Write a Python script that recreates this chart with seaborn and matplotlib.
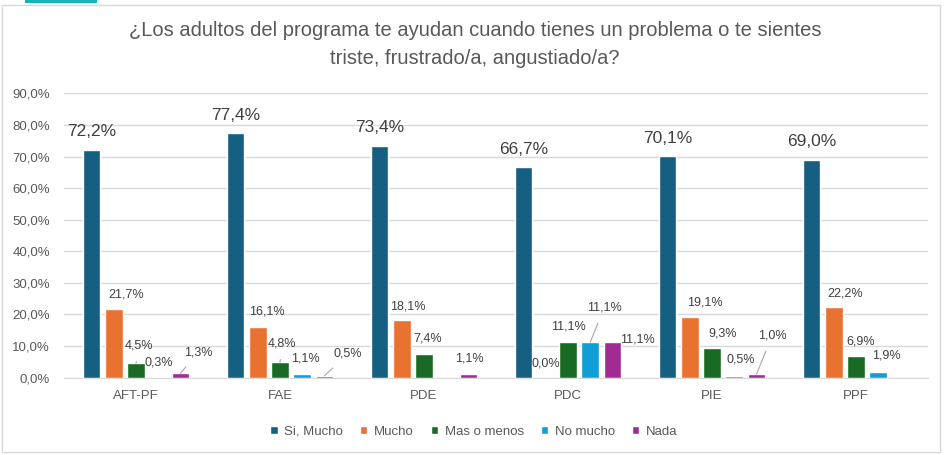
import numpy as np
import pandas as pd
import seaborn as sns
import matplotlib.pyplot as plt
from matplotlib.patches import Rectangle, Patch
from matplotlib.ticker import FuncFormatter

programas = ["AFT-PF", "FAE", "PDE", "PDC", "PIE", "PPF"]
respuestas = ["Si, Mucho", "Mucho", "Mas o menos", "No mucho", "Nada"]

si_mucho = [72.2, 77.4, 73.4, 66.7, 70.1, 69.0]
mucho = [21.7, 16.1, 18.1, 0.0, 19.1, 22.2]
mas_o_menos = [4.5, 4.8, 7.4, 11.1, 9.3, 6.9]
no_mucho = [0.3, 1.1, np.nan, 11.1, 0.5, 1.9]
nada = [1.3, 0.5, 1.1, 11.1, 1.0, np.nan]

colores = ["#156082", "#E97132", "#196B24", "#0F9ED5", "#A02B93"]

valores = [si_mucho, mucho, mas_o_menos, no_mucho, nada]
rows = []
for r, vals in zip(respuestas, valores):
    for p, v in zip(programas, vals):
        rows.append({"programa": p, "respuesta": r, "valor": v})
df = pd.DataFrame(rows)

# label offsets in pixels (dx, dy) from top centre of bar; third item -> leader line
offs = {
    0: [(0, 18), (0, 18), (0, 18), (0, 18), (0, 18), (0, 18)],
    1: [(12, 15), (9, 15), (6, 14), (0, 14), (15, 15), (11, 14)],
    2: [(3, 18, True), (2, 19, True), (4, 16), (0, 16), (11, 15), (5, 14)],
    3: [(1, 14), (3, 16), None, (14, 35, True), (7, 16), (8, 16)],
    4: [(18, 21, True), (23, 22, True), (1, 16), (25, 3), (16, 39, True), None],
}

sns.set_style("white")
plt.rcParams["font.family"] = ["Liberation Sans", "DejaVu Sans"]

fig = plt.figure(figsize=(9.44, 4.55), dpi=100)
ax = fig.add_axes([64 / 944, 77.5 / 455, 864 / 944, 284 / 455])

sns.barplot(data=df, x="programa", y="valor", hue="respuesta", order=programas,
            hue_order=respuestas, palette=colores, gap=0.21, width=0.77,
            saturation=1, ax=ax, legend=False)

ax.set_xlim(-0.5, 5.5)
ax.set_ylim(0, 90)
ax.set_yticks(np.arange(0, 91, 10))
ax.yaxis.set_major_formatter(FuncFormatter(lambda v, pos: f"{v:.1f}%".replace(".", ",")))
ax.grid(axis="y", color="#d9d9d9", linewidth=1)
ax.set_axisbelow(True)
for s in ["top", "right", "left"]:
    ax.spines[s].set_visible(False)
ax.spines["bottom"].set_color("#d9d9d9")
ax.tick_params(axis="both", length=0, colors="#595959", labelsize=9.5)
ax.tick_params(axis="y", pad=10)
ax.tick_params(axis="x", pad=9)
ax.set_xlabel("")
ax.set_ylabel("")

for hi, cont in enumerate(ax.containers):
    for bar in cont:
        h = bar.get_height()
        if np.isnan(h):
            continue
        xc = bar.get_x() + bar.get_width() / 2
        ci = int(round(xc))
        o = offs[hi][ci]
        if o is None:
            continue
        txt = f"{h:.1f}%".replace(".", ",")
        fs = 12.5 if hi == 0 else 9
        kw = {}
        if len(o) == 3:
            kw["arrowprops"] = dict(arrowstyle="-", color="#a6a6a6", lw=0.8,
                                    shrinkA=5, shrinkB=0)
        ax.annotate(txt, xy=(xc, h), xytext=(o[0], o[1]), textcoords="offset pixels",
                    ha="center", va="center", fontsize=fs, color="#404040", **kw)

handles = [Patch(facecolor=c, label=r) for c, r in zip(colores, respuestas)]
leg = fig.legend(handles=handles, loc="center", bbox_to_anchor=(0.502, 1 - 432 / 455), ncol=5,
                 frameon=False, fontsize=9.5, handlelength=0.55, handleheight=0.55,
                 handletextpad=0.5, columnspacing=1.3, labelcolor="#595959")
# keep the columns on one text line (the comma in "Si, Mucho" pushes it down otherwise)
leg._legend_handle_box.align = "top"

fig.text(0.503, 1 - 30 / 455, "¿Los adultos del programa te ayudan cuando tienes un problema o te sientes",
         ha="center", va="center", fontsize=14.5, color="#595959")
fig.text(0.503, 1 - 58 / 455, "triste, frustrado/a, angustiado/a?",
         ha="center", va="center", fontsize=14.5, color="#595959")

fig.patches.append(Rectangle((2 / 944, 3 / 455), 938 / 944, 447 / 455, transform=fig.transFigure,
                             fill=False, edgecolor="#d9d9d9", linewidth=1))
fig.patches.append(Rectangle((25 / 944, 452 / 455), 72 / 944, 3 / 455, transform=fig.transFigure,
                             color="#16b5b5", linewidth=0))

fig.savefig("out.png", dpi=100)
